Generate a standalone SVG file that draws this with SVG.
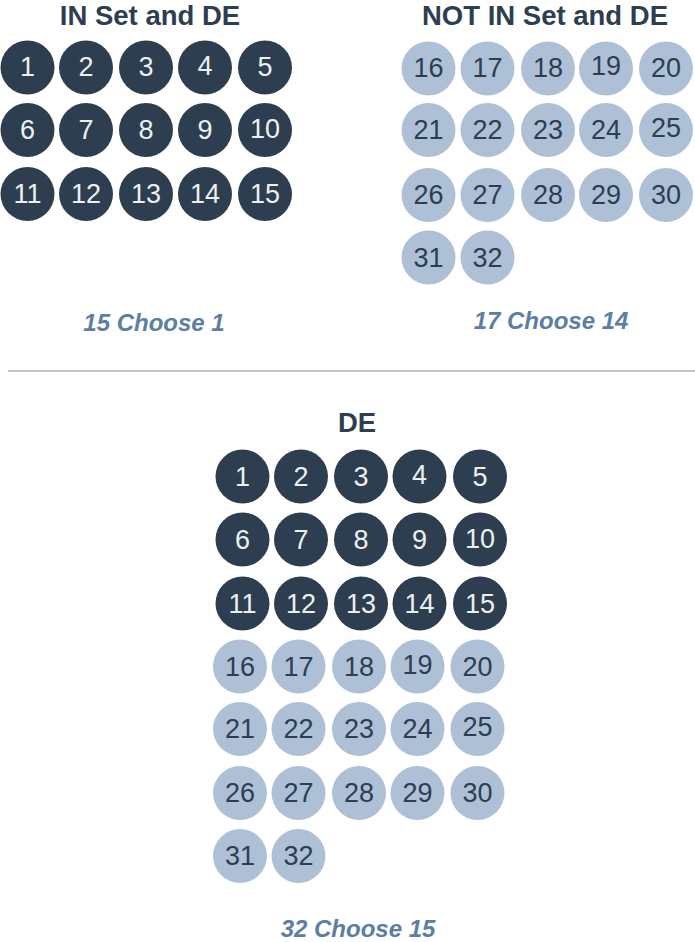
<svg xmlns="http://www.w3.org/2000/svg" width="695" height="942" viewBox="0 0 695 942">
<style>
.bg{fill:#ffffff}
.d circle{fill:#2c3e50}
.l circle{fill:#adc0d6}
.d text{fill:#ecf0f1}
.l text{fill:#2c3e50}
text{font-family:"Liberation Sans",Arial,sans-serif}
.n{font-size:27px;text-anchor:middle}
.t{font-size:27.5px;font-weight:bold;fill:#2c3e50;text-anchor:middle}
.c{font-size:24px;font-style:italic;font-weight:bold;fill:#5b7fa3;text-anchor:middle}
</style>
<rect class="bg" x="0" y="0" width="695" height="942"/>
<text class="t" x="150" y="25">IN Set and DE</text>
<text class="t" x="545" y="25">NOT IN Set and DE</text>
<text class="t" x="357" y="432">DE</text>
<text class="c" x="154" y="331">15 Choose 1</text>
<text class="c" x="551" y="329">17 Choose 14</text>
<text class="c" x="358" y="937">32 Choose 15</text>
<g id="connectors">
<line x1="8" y1="371" x2="695" y2="371" stroke="#c4c4c4" stroke-width="2"/>
</g>
<!-- top left -->
<g id="a1" class="d"><circle cx="27.5" cy="67.5" r="27"/><text class="n" x="27.5" y="76">1</text></g>
<g id="a2" class="d"><circle cx="86" cy="67.5" r="27"/><text class="n" x="86" y="76">2</text></g>
<g id="a3" class="d"><circle cx="146" cy="67.5" r="27"/><text class="n" x="146" y="76">3</text></g>
<g id="a4" class="d"><circle cx="205" cy="67.5" r="27"/><text class="n" x="205" y="75">4</text></g>
<g id="a5" class="d"><circle cx="265" cy="67.5" r="27"/><text class="n" x="265" y="76">5</text></g>
<g id="a6" class="d"><circle cx="27.5" cy="130" r="27"/><text class="n" x="27.5" y="139">6</text></g>
<g id="a7" class="d"><circle cx="86" cy="130" r="27"/><text class="n" x="86" y="139">7</text></g>
<g id="a8" class="d"><circle cx="146" cy="130" r="27"/><text class="n" x="146" y="139">8</text></g>
<g id="a9" class="d"><circle cx="205" cy="130" r="27"/><text class="n" x="205" y="139">9</text></g>
<g id="a10" class="d"><circle cx="265" cy="130" r="27"/><text class="n" x="265" y="138">10</text></g>
<g id="a11" class="d"><circle cx="27.5" cy="194" r="27"/><text class="n" x="27.5" y="203">11</text></g>
<g id="a12" class="d"><circle cx="86" cy="194" r="27"/><text class="n" x="86" y="203">12</text></g>
<g id="a13" class="d"><circle cx="146" cy="194" r="27"/><text class="n" x="146" y="203">13</text></g>
<g id="a14" class="d"><circle cx="205" cy="194" r="27"/><text class="n" x="205" y="203">14</text></g>
<g id="a15" class="d"><circle cx="265" cy="194" r="27"/><text class="n" x="265" y="203">15</text></g>
<!-- top right -->
<g id="b16" class="l"><circle cx="428.5" cy="68.5" r="27"/><text class="n" x="428.5" y="77">16</text></g>
<g id="b17" class="l"><circle cx="487.5" cy="68.5" r="27"/><text class="n" x="487.5" y="77">17</text></g>
<g id="b18" class="l"><circle cx="548" cy="68.5" r="27"/><text class="n" x="548" y="77">18</text></g>
<g id="b19" class="l"><circle cx="606" cy="68.5" r="27"/><text class="n" x="606" y="75">19</text></g>
<g id="b20" class="l"><circle cx="666" cy="68.5" r="27"/><text class="n" x="666" y="77">20</text></g>
<g id="b21" class="l"><circle cx="428.5" cy="130" r="27"/><text class="n" x="428.5" y="139">21</text></g>
<g id="b22" class="l"><circle cx="487.5" cy="130" r="27"/><text class="n" x="487.5" y="139">22</text></g>
<g id="b23" class="l"><circle cx="548" cy="130" r="27"/><text class="n" x="548" y="139">23</text></g>
<g id="b24" class="l"><circle cx="606" cy="130" r="27"/><text class="n" x="606" y="139">24</text></g>
<g id="b25" class="l"><circle cx="666" cy="130" r="27"/><text class="n" x="666" y="137">25</text></g>
<g id="b26" class="l"><circle cx="428.5" cy="195" r="27"/><text class="n" x="428.5" y="204">26</text></g>
<g id="b27" class="l"><circle cx="487.5" cy="195" r="27"/><text class="n" x="487.5" y="204">27</text></g>
<g id="b28" class="l"><circle cx="548" cy="195" r="27"/><text class="n" x="548" y="204">28</text></g>
<g id="b29" class="l"><circle cx="606" cy="195" r="27"/><text class="n" x="606" y="204">29</text></g>
<g id="b30" class="l"><circle cx="666" cy="195" r="27"/><text class="n" x="666" y="204">30</text></g>
<g id="b31" class="l"><circle cx="428.5" cy="257.5" r="27"/><text class="n" x="428.5" y="266.5">31</text></g>
<g id="b32" class="l"><circle cx="487.5" cy="257.5" r="27"/><text class="n" x="487.5" y="266.5">32</text></g>
<!-- bottom -->
<g id="c1" class="d"><circle cx="242.5" cy="476.5" r="27"/><text class="n" x="242.5" y="485.5">1</text></g>
<g id="c2" class="d"><circle cx="301" cy="476.5" r="27"/><text class="n" x="301" y="485.5">2</text></g>
<g id="c3" class="d"><circle cx="361" cy="476.5" r="27"/><text class="n" x="361" y="485.5">3</text></g>
<g id="c4" class="d"><circle cx="419.5" cy="476.5" r="27"/><text class="n" x="419.5" y="483.5">4</text></g>
<g id="c5" class="d"><circle cx="480" cy="476.5" r="27"/><text class="n" x="480" y="485.5">5</text></g>
<g id="c6" class="d"><circle cx="242.5" cy="539.5" r="27"/><text class="n" x="242.5" y="548.5">6</text></g>
<g id="c7" class="d"><circle cx="301" cy="539.5" r="27"/><text class="n" x="301" y="548.5">7</text></g>
<g id="c8" class="d"><circle cx="361" cy="539.5" r="27"/><text class="n" x="361" y="548.5">8</text></g>
<g id="c9" class="d"><circle cx="419.5" cy="539.5" r="27"/><text class="n" x="419.5" y="548.5">9</text></g>
<g id="c10" class="d"><circle cx="480" cy="539.5" r="27"/><text class="n" x="480" y="547.5">10</text></g>
<g id="c11" class="d"><circle cx="242.5" cy="603.5" r="27"/><text class="n" x="242.5" y="612.5">11</text></g>
<g id="c12" class="d"><circle cx="301" cy="603.5" r="27"/><text class="n" x="301" y="612.5">12</text></g>
<g id="c13" class="d"><circle cx="361" cy="603.5" r="27"/><text class="n" x="361" y="612.5">13</text></g>
<g id="c14" class="d"><circle cx="419.5" cy="603.5" r="27"/><text class="n" x="419.5" y="612.5">14</text></g>
<g id="c15" class="d"><circle cx="480" cy="603.5" r="27"/><text class="n" x="480" y="612.5">15</text></g>
<g id="c16" class="l"><circle cx="240" cy="666.5" r="27"/><text class="n" x="240" y="675.5">16</text></g>
<g id="c17" class="l"><circle cx="298.5" cy="666.5" r="27"/><text class="n" x="298.5" y="675.5">17</text></g>
<g id="c18" class="l"><circle cx="359" cy="666.5" r="27"/><text class="n" x="359" y="675.5">18</text></g>
<g id="c19" class="l"><circle cx="417.5" cy="666.5" r="27"/><text class="n" x="417.5" y="673.5">19</text></g>
<g id="c20" class="l"><circle cx="477.5" cy="666.5" r="27"/><text class="n" x="477.5" y="675.5">20</text></g>
<g id="c21" class="l"><circle cx="240" cy="729" r="27"/><text class="n" x="240" y="738">21</text></g>
<g id="c22" class="l"><circle cx="298.5" cy="729" r="27"/><text class="n" x="298.5" y="738">22</text></g>
<g id="c23" class="l"><circle cx="359" cy="729" r="27"/><text class="n" x="359" y="738">23</text></g>
<g id="c24" class="l"><circle cx="417.5" cy="729" r="27"/><text class="n" x="417.5" y="738">24</text></g>
<g id="c25" class="l"><circle cx="477.5" cy="729" r="27"/><text class="n" x="477.5" y="735.5">25</text></g>
<g id="c26" class="l"><circle cx="240" cy="793" r="27"/><text class="n" x="240" y="802">26</text></g>
<g id="c27" class="l"><circle cx="298.5" cy="793" r="27"/><text class="n" x="298.5" y="802">27</text></g>
<g id="c28" class="l"><circle cx="359" cy="793" r="27"/><text class="n" x="359" y="802">28</text></g>
<g id="c29" class="l"><circle cx="417.5" cy="793" r="27"/><text class="n" x="417.5" y="802">29</text></g>
<g id="c30" class="l"><circle cx="477.5" cy="793" r="27"/><text class="n" x="477.5" y="802">30</text></g>
<g id="c31" class="l"><circle cx="240" cy="856" r="27"/><text class="n" x="240" y="865">31</text></g>
<g id="c32" class="l"><circle cx="298.5" cy="856" r="27"/><text class="n" x="298.5" y="865">32</text></g>
</svg>
